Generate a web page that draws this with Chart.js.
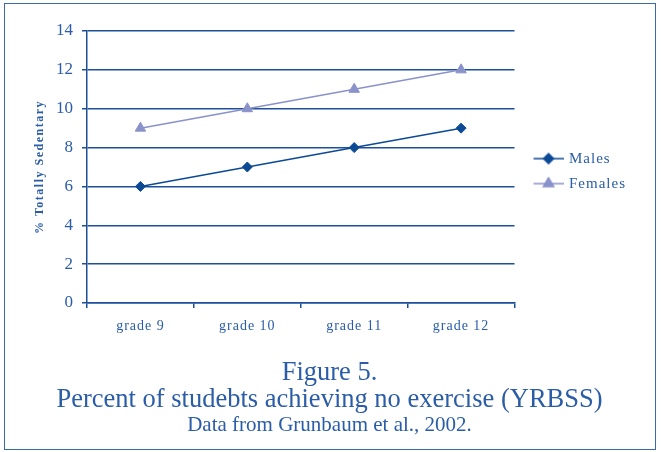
<!DOCTYPE html>
<html>
  <head>
    <title>Percent of students achieving no exercise</title>
    <script src="https://cdn.jsdelivr.net/npm/chart.js"></script>
    <style>
      body { margin: 0; background: #fff; }
      #wrap { position: relative; width: 661px; height: 452px; }
      #frame {
        position: absolute; left: 4px; top: 3px; width: 652px; height: 447px;
        box-sizing: border-box; border: 1.5px solid #3a6aae; pointer-events: none;
      }
    </style>
  </head>
  <body>
    <div id="wrap">
      <canvas id="line-chart" width="661" height="452"></canvas>
      <div id="frame"></div>
    </div>
    <script>
      // YRBSS, percent totally sedentary by grade
      const grades = ["grade 9", "grade 10", "grade 11", "grade 12"];
      const males = [6, 7, 8, 9];
      const females = [9, 10, 11, 12];
      const yMax = 14;
      const yStep = 2;

      const serif = "'Liberation Serif', 'Times New Roman', serif";
      const textBlue = "#2a5ca8";
      const gridBlue = "#1d4f9b";
      const maleBlue = "#0c4a96";
      const femaleBlue = "#8a92ca";

      // legend swatch: short line with the marker in the middle
      function legendIcon(color, style, radius) {
        const c = document.createElement("canvas");
        c.width = 41;
        c.height = 14;
        const g = c.getContext("2d");
        g.strokeStyle = color;
        g.fillStyle = color;
        g.lineWidth = 1.5;
        g.beginPath();
        g.moveTo(11, 7);
        g.lineTo(41, 7);
        g.stroke();
        Chart.helpers.drawPoint(g, { pointStyle: style, radius: radius, borderWidth: 1 }, 26, 7);
        return c;
      }
      const icons = [legendIcon(maleBlue, "rectRot", 5), legendIcon(femaleBlue, "triangle", 6)];

      // wrap a draw method so its text is letter-spaced
      function widen(obj, method, px) {
        if (!obj || obj[method].spaced) return;
        const orig = obj[method];
        const fn = function (...args) {
          const c = this.ctx;
          c.save();
          c.letterSpacing = px;
          orig.apply(this, args);
          c.restore();
        };
        fn.spaced = true;
        obj[method] = fn;
      }
      const spacedText = {
        id: "spacedText",
        beforeDraw(chart) {
          widen(chart.scales.x, "drawLabels", "1px");
          widen(chart.scales.y, "drawTitle", "1.5px");
          widen(chart.legend, "draw", "1px");
        }
      };

      const ctx = document.getElementById("line-chart").getContext("2d");
      new Chart(ctx, {
        type: "line",
        data: {
          labels: grades,
          datasets: [
            {
              label: "Males",
              data: males,
              borderColor: maleBlue,
              backgroundColor: maleBlue,
              borderWidth: 1.5,
              pointStyle: "rectRot",
              pointRadius: 5,
              pointBorderWidth: 1,
              tension: 0
            },
            {
              label: "Females",
              data: females,
              borderColor: femaleBlue,
              backgroundColor: femaleBlue,
              borderWidth: 1.5,
              pointStyle: "triangle",
              pointRadius: 6,
              pointBorderWidth: 1,
              tension: 0
            }
          ]
        },
        options: {
          responsive: false,
          animation: false,
          layout: { padding: { left: 30, right: 32, top: 31, bottom: 13.5 } },
          scales: {
            x: {
              offset: true,
              grid: { offset: true, drawOnChartArea: false, drawTicks: true, tickLength: 5, color: gridBlue, lineWidth: 1.5 },
              border: { color: gridBlue, width: 1.5 },
              ticks: { color: textBlue, padding: 10, font: { family: serif, size: 14 } }
            },
            y: {
              min: 0,
              max: yMax,
              afterFit(scale) { scale.width = 57; },
              grid: { color: gridBlue, lineWidth: 1.5, tickLength: 5 },
              border: { color: gridBlue, width: 1.5 },
              ticks: { stepSize: yStep, color: textBlue, padding: 9, font: { family: serif, size: 17 } },
              title: {
                display: true,
                text: "% Totally Sedentary",
                color: textBlue,
                padding: { top: 3, bottom: 0 },
                font: { family: serif, size: 12, weight: "bold" }
              }
            }
          },
          plugins: {
            legend: {
              position: "right",
              fullSize: false,
              title: { display: true, text: "", padding: { top: 7, bottom: 0 }, font: { size: 1 } },
              labels: {
                usePointStyle: true,
                pointStyleWidth: 37,
                padding: 10,
                color: textBlue,
                font: { family: serif, size: 15 },
                generateLabels: (chart) =>
                  Chart.defaults.plugins.legend.labels.generateLabels(chart).map((item, i) => ({ ...item, pointStyle: icons[i] }))
              }
            },
            title: {
              display: true,
              position: "bottom",
              text: ["Figure 5.", "Percent of studebts achieving no exercise (YRBSS)"],
              color: textBlue,
              padding: { top: 14.5, bottom: 0 },
              font: { family: serif, size: 26.5, weight: "normal", lineHeight: "27px" }
            },
            subtitle: {
              display: true,
              position: "bottom",
              weight: 3000,
              text: "Data from Grunbaum et al., 2002.",
              color: textBlue,
              padding: { top: 0, bottom: 0 },
              font: { family: serif, size: 21 }
            },
            tooltip: { enabled: false }
          }
        },
        plugins: [spacedText]
      });
    </script>
  </body>
</html>
